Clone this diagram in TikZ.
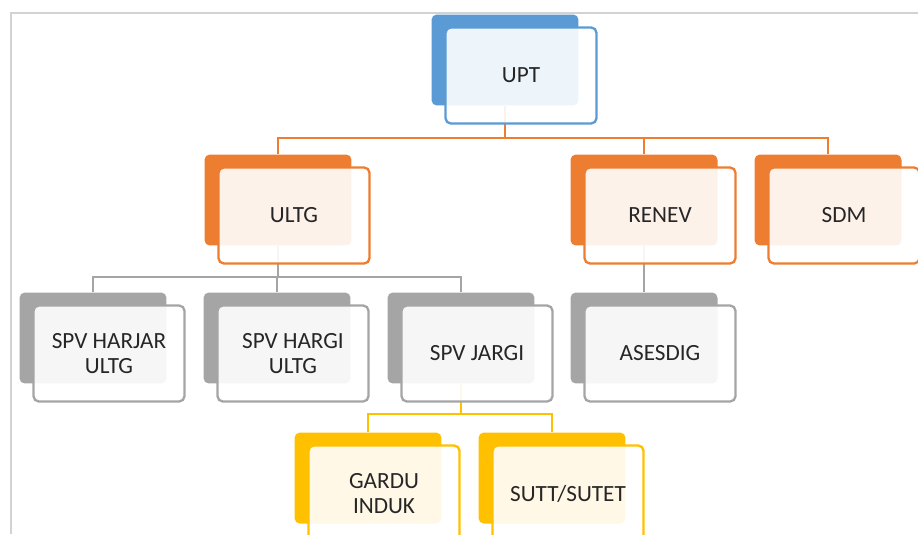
\documentclass[tikz,border=0pt]{standalone}
\usepackage{fontspec}
\setmainfont{Carlito}

\definecolor{accblue}{HTML}{5B9BD5}
\definecolor{accorange}{HTML}{ED7D31}
\definecolor{accgray}{HTML}{A5A5A5}
\definecolor{accgold}{HTML}{FFC000}
\definecolor{framegray}{HTML}{D2D2D2}

\begin{document}
\begin{tikzpicture}[x=0.02cm, y=-0.02cm,
  backbox/.style={rectangle, rounded corners=3pt, draw=none, inner sep=0pt,
    minimum width=2.94cm, minimum height=1.82cm},
  frontbox/.style={rectangle, rounded corners=3pt, line width=1.3pt, inner sep=0pt,
    fill=white, fill opacity=0.9, text opacity=1, text=black!85, align=center,
    minimum width=3.02cm, minimum height=1.92cm, font=\fontsize{13.2}{14.5}\selectfont},
  conn/.style={line width=1.1pt}]

\useasboundingbox (0,0) rectangle (918,534);
\clip (0,0) rectangle (918,534);

% frame
\draw[framegray, line width=1.3pt] (11,534) -- (11,13) -- (918,13);

% coloured back plates
\node[backbox, fill=accblue] (upt) at (505,60) {};
\node[backbox, fill=accorange] (ultg) at (278,200) {};
\node[backbox, fill=accorange] (renev) at (644,200) {};
\node[backbox, fill=accorange] (sdm) at (828,200) {};
\node[backbox, fill=accgray] (harjar) at (93,338) {};
\node[backbox, fill=accgray] (hargi) at (277,338) {};
\node[backbox, fill=accgray] (jargi) at (461,338) {};
\node[backbox, fill=accgray] (asesdig) at (644,338) {};
\node[backbox, fill=accgold] (gardu) at (368,478) {};
\node[backbox, fill=accgold] (sutt) at (552,478) {};

% levels of the elbow lines
\coordinate (bar1) at (0,138);
\coordinate (bar2) at (0,277);
\coordinate (bar3) at (0,414);

% connectors
\foreach \c in {ultg,renev,sdm}
  \draw[conn, accorange] (upt.south) -- (upt.south |- bar1) -| (\c.north);
\foreach \c in {harjar,hargi,jargi}
  \draw[conn, accgray] (ultg.south) -- (ultg.south |- bar2) -| (\c.north);
\draw[conn, accgray] (renev.south) -- (asesdig.north);
\foreach \c in {gardu,sutt}
  \draw[conn, accgold] (jargi.south) -- (jargi.south |- bar3) -| (\c.north);

% text plates
\node[frontbox, draw=accblue] (upt-f) at ([shift={(16,15.5)}]upt.center) {UPT};
\node[frontbox, draw=accorange] (ultg-f) at ([shift={(16,15.5)}]ultg.center) {ULTG};
\node[frontbox, draw=accorange] (renev-f) at ([shift={(16,15.5)}]renev.center) {RENEV};
\node[frontbox, draw=accorange] (sdm-f) at ([shift={(16,15.5)}]sdm.center) {SDM};
\node[frontbox, draw=accgray] (harjar-f) at ([shift={(16,15.5)}]harjar.center) {SPV HARJAR\\ULTG};
\node[frontbox, draw=accgray] (hargi-f) at ([shift={(16,15.5)}]hargi.center) {SPV HARGI\\ULTG};
\node[frontbox, draw=accgray] (jargi-f) at ([shift={(16,15.5)}]jargi.center) {SPV JARGI};
\node[frontbox, draw=accgray] (asesdig-f) at ([shift={(16,15.5)}]asesdig.center) {ASESDIG};
\node[frontbox, draw=accgold] (gardu-f) at ([shift={(16,15.5)}]gardu.center) {GARDU\\INDUK};
\node[frontbox, draw=accgold] (sutt-f) at ([shift={(16,15.5)}]sutt.center) {SUTT/SUTET};
\end{tikzpicture}
\end{document}
